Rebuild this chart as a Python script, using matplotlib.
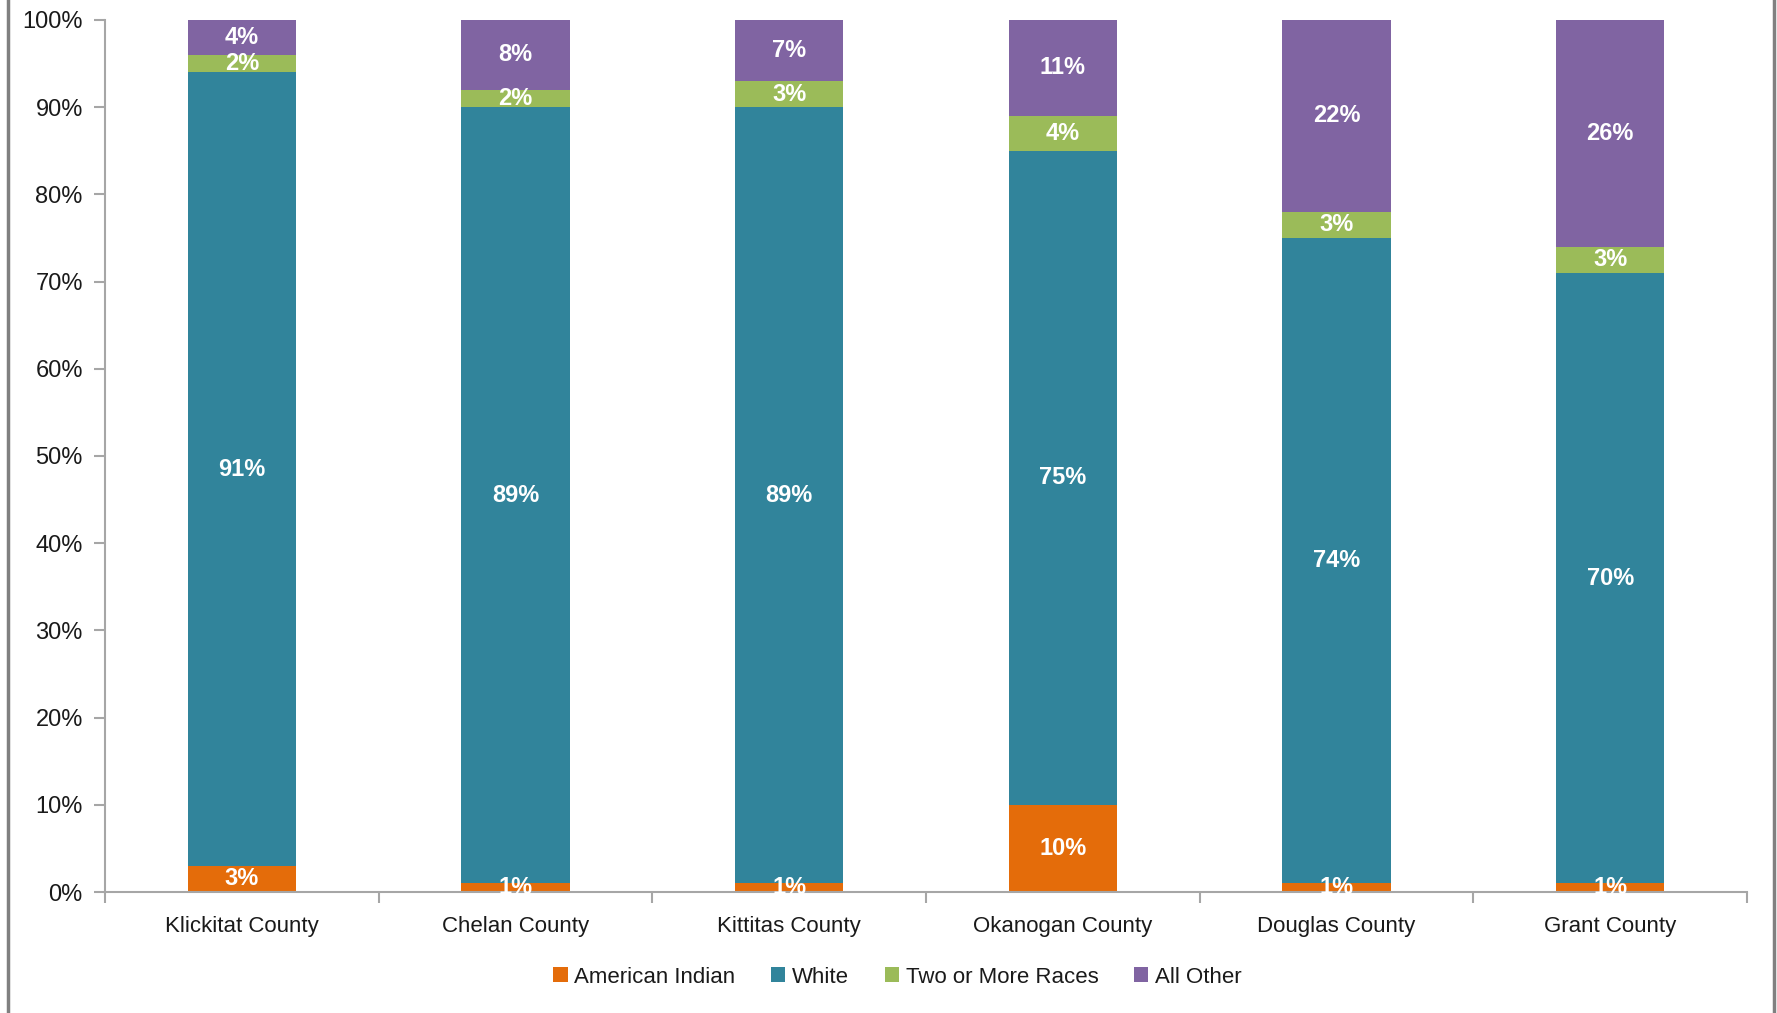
import numpy as np
import matplotlib.pyplot as plt
from matplotlib import font_manager
from matplotlib.lines import Line2D
from matplotlib.patches import Patch

# 数据：各县人口种族构成（%）
counties = ["Klickitat County", "Chelan County", "Kittitas County",
            "Okanogan County", "Douglas County", "Grant County"]
american_indian = [3, 1, 1, 10, 1, 1]
white = [91, 89, 89, 75, 74, 70]
two_or_more = [2, 2, 3, 4, 3, 3]
all_other = [4, 8, 7, 11, 22, 26]

series_names = ["American Indian", "White", "Two or More Races", "All Other"]
colors = ["#E46C0A", "#31849B", "#9BBB59", "#8064A2"]
yticks = [0, 10, 20, 30, 40, 50, 60, 70, 80, 90, 100]

# 字体：优先用窄体，没有就用普通的
names = {f.name for f in font_manager.fontManager.ttflist}
narrow = "Liberation Sans Narrow" in names
font = "Liberation Sans Narrow" if narrow else "Liberation Sans"
plt.rcParams['font.family'] = [font, 'DejaVu Sans']
fs = 18 if narrow else 16

fig = plt.figure(figsize=(17.77, 10.13), dpi=100)
ax = fig.add_axes([105 / 1777, 1 - 892 / 1013, (1747 - 105) / 1777, (892 - 20) / 1013])

x = np.arange(len(counties))
bottom = np.zeros(len(counties))
for vals, name, c in zip([american_indian, white, two_or_more, all_other], series_names, colors):
    vals = np.array(vals, dtype=float)
    ax.bar(x, vals, width=0.395, bottom=bottom, color=c, label=name, zorder=2)
    for xi, b, v in zip(x, bottom, vals):
        ax.text(xi, b + v / 2, f"{int(v)}%", ha='center', va='center',
                color='white', fontsize=17, fontweight='bold', zorder=3)
    bottom += vals

ax.set_xlim(-0.5, len(counties) - 0.5)
ax.set_ylim(0, 100)
ax.set_yticks(yticks)
ax.set_yticklabels([f"{v}%" for v in yticks])
ax.set_xticks(x)
ax.set_xticklabels(counties)
ax.set_xticks(np.arange(-0.5, len(counties), 1.0), minor=True)

axis_gray = "#A6A6A6"
for s in ['top', 'right']:
    ax.spines[s].set_visible(False)
for s in ['left', 'bottom']:
    ax.spines[s].set_color(axis_gray)
    ax.spines[s].set_linewidth(1.5)
ax.tick_params(axis='y', length=8, width=1.5, color=axis_gray, labelsize=17, labelcolor='#1a1a1a', pad=8)
ax.tick_params(axis='x', which='major', length=0, labelsize=fs, labelcolor='#1a1a1a', pad=17)
ax.tick_params(axis='x', which='minor', length=8, width=1.5, color=axis_gray)

handles = [Patch(facecolor=c, edgecolor='none') for c in colors]
fig.legend(handles, series_names, loc='center', bbox_to_anchor=(0.505, 1 - 977 / 1013),
           ncol=4, frameon=False, fontsize=fs, handlelength=0.65, handleheight=0.65,
           handletextpad=0.3, columnspacing=1.6, labelcolor='#1a1a1a')

# 外框左右两条灰线
fig.add_artist(Line2D([8 / 1777, 8 / 1777], [0, 1], color='#808080', lw=2.5))
fig.add_artist(Line2D([1774 / 1777, 1774 / 1777], [0, 1], color='#808080', lw=2.5))

fig.savefig("out.png", dpi=100)
